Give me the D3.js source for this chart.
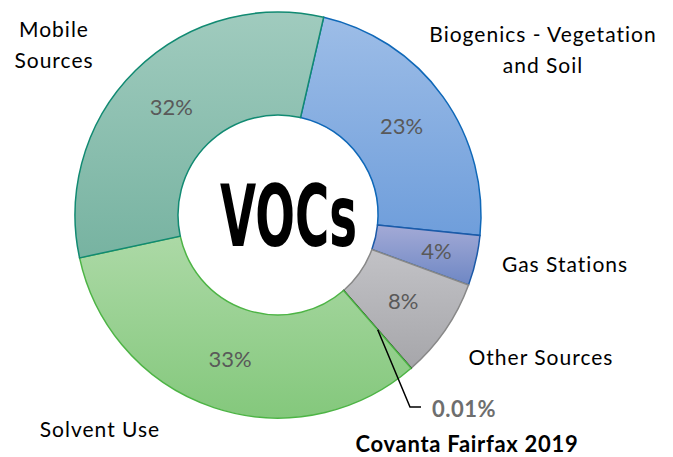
<html lang="en">
<head>
<meta charset="UTF-8">
<title>VOCs donut</title>
<script src="https://d3js.org/d3.v7.min.js"></script>
<style>
  body { margin: 0; background: #fff; }
  text { font-family: Lato, "Open Sans", sans-serif; }
</style>
</head>
<body>
<div id="chart"></div>
<script>
// data
const categories = ["Biogenics - Vegetation|and Soil", "Gas Stations", "Other Sources", "Covanta Fairfax 2019", "Solvent Use", "Mobile|Sources"];
const values = [23, 4, 8, 0.01, 33, 32];
const pctLabels = ["23%", "4%", "8%", "0.01%", "33%", "32%"];

// styling, one per slice
const topColors = ["#9dbde7", "#a3aad6", "#c2c2c6", "#222", "#acd9a6", "#a0cbbe"];
const bottomColors = ["#6f9edb", "#6e87c4", "#a6a6aa", "#000", "#84c87c", "#77b3a1"];
const strokes = ["#0f68b8", "#1c5aa8", "#888888", "#000", "#4db445", "#118a72"];

// label placement (outside names)
const namePos = [[543, 42], [565, 272], [541, 365], [467, 452], [100, 437], [54, 37]];

const width = 673, height = 457;
const cx = 278, cy = 215, outerR = 203, innerR = 100, labelR = 152;
const startDeg = 13;

const svg = d3.select("#chart").append("svg")
  .attr("width", width).attr("height", height);

const defs = svg.append("defs");
values.forEach(function (v, i) {
  const g = defs.append("linearGradient").attr("id", "grad" + i)
    .attr("x1", 0).attr("y1", 0).attr("x2", 0).attr("y2", 1);
  g.append("stop").attr("offset", "0%").attr("stop-color", topColors[i]);
  g.append("stop").attr("offset", "100%").attr("stop-color", bottomColors[i]);
});

const start = startDeg * Math.PI / 180;
const pie = d3.pie().sort(null).value(d => d)
  .startAngle(start).endAngle(start + 2 * Math.PI);
const arcs = pie(values);

const arc = d3.arc().innerRadius(innerR).outerRadius(outerR);
const labelArc = d3.arc().innerRadius(labelR).outerRadius(labelR);

const g = svg.append("g").attr("transform", "translate(" + cx + "," + cy + ")");

g.selectAll("path.slice")
  .data(arcs)
  .enter()
  .append("path")
  .attr("class", "slice")
  .attr("d", arc)
  .attr("fill", (d, i) => "url(#grad" + i + ")")
  .attr("stroke", (d, i) => strokes[i])
  .attr("stroke-width", 1.5);

// percentage labels inside ring (skip the tiny slice)
g.selectAll("text.pct")
  .data(arcs.filter((d, i) => i !== 3))
  .enter()
  .append("text")
  .attr("class", "pct")
  .attr("transform", function (d) {
    const c = labelArc.centroid(d);
    const extra = (d.index === 1) ? 1.07 : 1;
    return "translate(" + c[0] * extra + "," + c[1] * extra + ")";
  })
  .attr("text-anchor", "middle")
  .attr("dy", "0.36em")
  .attr("fill", "#595959")
  .style("font-size", "22px")
  .text(d => pctLabels[d.index]);

// leader for the tiny slice
const tiny = arcs[3];
const tc = labelArc.centroid(tiny);
const lineEnd = [410 - cx, 407 - cy];
g.append("path")
  .attr("d", d3.line()([tc, lineEnd, [lineEnd[0] + 11, lineEnd[1]]]))
  .attr("fill", "none")
  .attr("stroke", "#000")
  .attr("stroke-width", 1.5);

svg.append("text")
  .attr("x", 432).attr("y", 417)
  .attr("fill", "#6e6e6e")
  .style("font-size", "22px")
  .style("font-weight", "bold")
  .style("letter-spacing", "0.5px")
  .text(pctLabels[3]);

// category names
categories.forEach(function (name, i) {
  const lines = name.split("|");
  const t = svg.append("text")
    .attr("text-anchor", "middle")
    .attr("fill", "#000")
    .style("font-size", i === 3 ? "22px" : "21px")
    .style("font-weight", i === 3 ? "bold" : "normal")
    .style("letter-spacing", i === 3 ? "0.7px" : "1px");
  lines.forEach(function (ln, j) {
    t.append("tspan")
      .attr("x", namePos[i][0])
      .attr("y", namePos[i][1] + j * 31)
      .text(ln);
  });
});

// center title, squeezed horizontally to look condensed
const title = svg.append("text")
  .attr("x", 0).attr("y", 0)
  .style("font-family", "'DejaVu Sans Condensed', 'DejaVu Sans', sans-serif")
  .style("font-weight", "bold")
  .style("font-size", "86px")
  .attr("fill", "#000")
  .text("VOCs");
const natural = title.node().getComputedTextLength();
const sx = 137 / natural;
title.attr("transform", "translate(220,246) scale(" + sx + ",1)");
</script>
</body>
</html>
